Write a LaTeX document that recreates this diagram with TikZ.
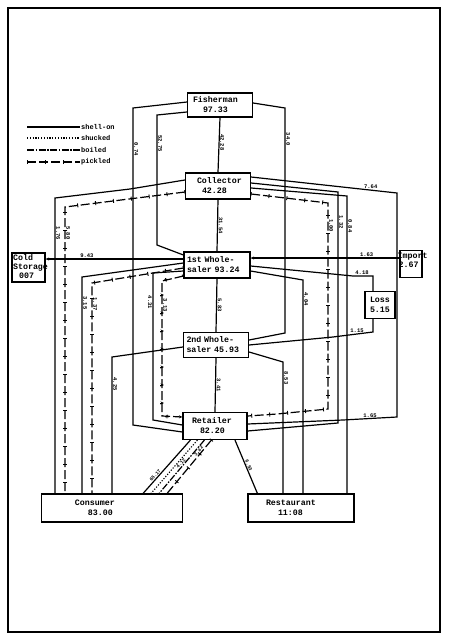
\documentclass[tikz,border=0pt]{standalone}
\usepackage{fontspec}
\setmonofont{Liberation Mono}
\usetikzlibrary{arrows.meta,calc,decorations.markings}
\tikzset{
  stage/.style    = {draw, line width=1.2pt, fill=white, inner xsep=3pt, inner ysep=1pt,
                     align=left, font=\ttfamily\bfseries\fontsize{8.3}{10}\selectfont},
  stagetxt/.style = {inner sep=0pt, align=left, font=\ttfamily\bfseries\fontsize{8.3}{9}\selectfont},
  shellon/.style  = {line width=1.2pt},
  shucked/.style  = {line width=1.1pt, dash pattern=on 1.2pt off 1.6pt},
  boiled/.style   = {line width=1.2pt, dash pattern=on 7pt off 1.5pt on 1.5pt off 1.5pt},
  pickled/.style  = {line width=1.2pt, dash pattern=on 9pt off 3pt,
                     postaction={decorate,decoration={markings,
                       mark=between positions 0 and 1 step 18pt with {\draw[solid,line width=0.9pt] (0,-2pt) -- (0,2pt);}}}},
  flowlbl/.style  = {inner sep=0.6pt, rotate=-90, anchor=south, font=\ttfamily\bfseries\fontsize{5.5}{6}\selectfont},
  flowh/.style    = {inner sep=0.6pt, anchor=south, font=\ttfamily\bfseries\fontsize{5.5}{6}\selectfont},
  flowd/.style    = {flowh, sloped, font=\ttfamily\bfseries\fontsize{4.8}{5}\selectfont},
  legendtxt/.style= {inner sep=0.5pt, anchor=west, font=\ttfamily\bfseries\fontsize{7}{8}\selectfont},
  into/.style     = {-{Stealth[length=3.5pt,width=3pt]}},
}
\begin{document}
\begin{tikzpicture}[x=1pt,y=-1pt]
  \useasboundingbox (0,0) rectangle (450,641);
  \draw[line width=1.2pt] (8,8) rectangle (440,632);

  % stages
  \node[stage, text width=59pt, minimum height=24pt] (fish) at (220,105) {\hspace*{2.5pt}Fisherman\\\hspace*{12.5pt}97.33};
  \node[stage, text width=59pt, minimum height=26pt] (coll) at (218,186) {\hspace*{8.5pt}Collector\\\hspace*{13.5pt}42.28};
  \node[stage, text width=60pt, minimum height=26pt] (wh1) at (217,265) {1st Whole-\\saler 93.24};
  \node[stage, text width=59pt, minimum height=25pt] (wh2) at (216,345) {2nd Whole-\\saler 45.93};
  \node[stage, text width=58pt, minimum height=27pt] (ret) at (215,426) {\hspace*{6pt}Retailer\\\hspace*{14pt}82.20};
  \node[stage, text width=135pt, minimum height=28pt] (cons) at (112,508) {\hspace*{30.5pt}Consumer\\\hspace*{43.5pt}83.00};
  \node[stage, text width=100pt, minimum height=28pt] (rest) at (301,508) {\hspace*{15pt}Restaurant\\\hspace*{27pt}11:08};
  \node[stage, minimum width=33pt, minimum height=29pt] (cold) at (28.5,267.5) {};
  \node[stagetxt, anchor=north west] (coldtxt) at ($(cold.north west)+(1.5,1.5)$) {Cold\\Storage\\\hspace*{6pt}007};
  \node[stage, minimum width=22pt, minimum height=27pt] (imp) at (411,264) {};
  \node[stagetxt, anchor=north west] (imptxt) at ($(imp.north west)+(-2,3)$) {Import\\\hspace*{1pt}2.67};
  \node[stage, text width=24pt, minimum height=27pt] (loss) at (380,305) {\hspace*{2pt}Loss\\\hspace*{2pt}5.15};

  % legend
  \draw[shellon] (27,127) -- (80,127) node[legendtxt] (kso) {shell-on};
  \draw[shucked] (27,138) -- (80,138) node[legendtxt] (ksh) {shucked};
  \draw[boiled]  (27,150) -- (80,150) node[legendtxt] (kbo) {boiled};
  \draw[pickled] (27,162) -- (80,162) node[legendtxt] (kpi) {pickled};

  % centre column
  \draw[shellon] (fish.south) -- node[flowlbl,pos=.45] (l1) {42.28} (coll.north);
  \draw[shellon] (coll.south) -- node[flowlbl,pos=.5] (l2) {31.54} (wh1.north);
  \draw[shellon] (wh1.south) -- node[flowlbl,pos=.5] (l3) {5.83} (wh2.north);
  \draw[shellon] (wh2.south) -- node[flowlbl,pos=.5] (l4) {3.41} (ret.north);

  % left side
  \draw[shellon] ($(fish.west)+(0,-3)$) -- (133,108) -- node[flowlbl,pos=.13] (l5) {0.74} (133,425) -- ($(ret.west)+(0,6)$);
  \draw[shellon] ($(fish.west)+(0,7)$) -- (157,115) -- node[flowlbl,pos=.22] (l6) {52.75} (157,245) -- ($(wh1.west)+(0,-10)$);
  \draw[shellon] ($(coll.west)+(0,-6)$) -- (130,189) -- (55,198) coordinate (cl1) -- node[flowlbl,pos=.12] (l7) {1.76} (cl1 |- cons.north);
  \draw[pickled] ($(coll.west)+(0,6)$) -- (65,207) coordinate (cl2) -- node[flowlbl,pos=.09] (l8) {5.80} (cl2 |- cons.north);
  \draw[shellon,into] ($(wh1.west)+(0,-6)$) coordinate (w1a) -- node[flowh,pos=.7] (l9) {9.43} (w1a -| cold.east);
  \draw[shellon] ($(wh1.west)+(0,-2)$) -- (82,277) coordinate (w1b) -- node[flowlbl,pos=.12] (l10) {3.15} (w1b |- cons.north);
  \draw[pickled] ($(wh1.west)+(0,3)$) -- (92,283) coordinate (w1c) -- node[flowlbl,pos=.1] (l11) {1.37} (w1c |- cons.north);
  \draw[shellon] ($(wh1.west)+(0,6)$) -- (153,273) -- node[flowlbl,pos=.2,anchor=north] (l12) {4.31} (153,420) -- ($(ret.west)+(0,-1)$);
  \draw[pickled,into] ($(wh1.west)+(0,11)$) -- (162,281) -- node[flowlbl,pos=.18] (l13) {3.13} (162,416) -- ($(ret.west)+(0,-9)$);
  \draw[shellon] ($(wh2.west)+(0,2)$) -- (112,357) coordinate (w2a) -- node[flowlbl,pos=.2] (l14) {4.25} (w2a |- cons.north);

  % right side
  \draw[shellon] ($(fish.east)+(0,-2)$) -- (285,108) -- node[flowlbl,pos=.14] (l15) {34.0} (285,333) -- ($(wh2.east)+(0,-5)$);
  \draw[shellon] ($(coll.east)+(0,-9)$) -- node[flowh,pos=.82] (l16) {7.64} (397,193) -- (397,417) -- node[flowh,pos=.5] (l17) {1.65} (343,420) -- ($(ret.east)+(0,-2)$);
  \draw[shellon] ($(coll.east)+(0,-3)$) -- (338,192) -- node[flowlbl,pos=.13] (l18) {1.32} (338,423) -- ($(ret.east)+(0,5)$);
  \draw[shellon] ($(coll.east)+(0,2)$) -- (347,196) coordinate (c3) -- node[flowlbl,pos=.1] (l19) {0.84} (c3 |- rest.north);
  \draw[pickled] ($(coll.east)+(0,8)$) -- (328,203) -- node[flowlbl,pos=.11] (l20) {1.00} (328,409) -- (277,414) -- ($(ret.east)+(0,-10)$);
  \coordinate (w1d) at ($(wh1.east)+(0,-7)$);
  \draw[shellon,into] (w1d -| imp.west) -- node[flowh,pos=.22] (l21) {1.63} (w1d);
  \draw[shellon] ($(wh1.east)+(0,1)$) -- (353,276) -- node[flowh,pos=.45] (l22) {4.18} (373,276) coordinate (w1e) -- (w1e |- loss.north);
  \draw[shellon] ($(wh1.east)+(0,6)$) -- (303,280) coordinate (w1f) -- node[flowlbl,pos=.09] (l23) {4.04} (w1f |- rest.north);
  \draw[shellon] ($(wh2.east)+(0,7)$) -- (283,362) coordinate (w2b) -- node[flowlbl,pos=.12] (l24) {8.53} (w2b |- rest.north);
  \draw[shellon] (wh2.east) -- (333,337) -- node[flowh,pos=.6] (l25) {1.15} (373,332) coordinate (w2c) -- (w2c |- loss.south);

  % retailer outlets
  \draw[shellon] ($(ret.south)+(20,0)$) -- node[flowd,pos=.5] (l26) {6.53} ($(rest.north west)+(10,0)$);
  \draw[shellon] ($(ret.south west)+(8,0)$) -- node[flowd,pos=.7] (l27) {65.17} ($(cons.north east)+(-40,0)$);
  \draw[shucked] ($(ret.south west)+(15,0)$) -- ($(cons.north east)+(-32,0)$);
  \draw[boiled]  ($(ret.south west)+(22,0)$) -- node[flowd,pos=.47] (l28) {4.12} ($(cons.north east)+(-24,0)$);
  \draw[pickled] ($(ret.south west)+(29,0)$) -- node[flowd,pos=.24] (l29) {3.42} ($(cons.north east)+(-16,0)$);
\end{tikzpicture}
\end{document}
